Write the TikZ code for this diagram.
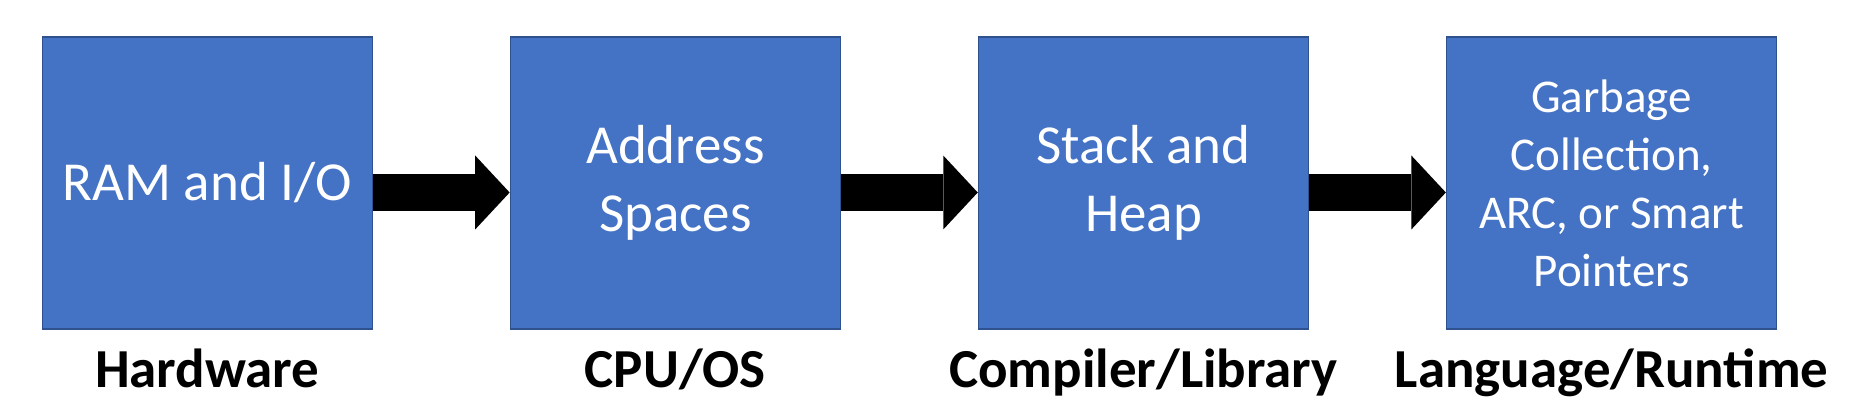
\documentclass[tikz,border=0pt]{standalone}
\usepackage{fontspec}
\setmainfont{Carlito}
\usepackage{tikz}
\usetikzlibrary{arrows.meta}
\definecolor{boxblue}{HTML}{4472C4}
\definecolor{boxedge}{HTML}{2F528F}
\tikzset{
  stage/.style={draw=boxedge,line width=0.75pt,fill=boxblue,text=white,
    minimum width=165pt,minimum height=146pt,inner sep=0pt,align=center},
  fullfit/.style={font=\fontsize{27.5}{34}\selectfont},
  shrunkfit/.style={font=\fontsize{23.5}{29}\selectfont},
  layer/.style={font=\fontsize{27.5}{34}\selectfont\bfseries,anchor=base,inner sep=0pt},
  flow/.style={line width=18.5pt,-{Triangle[length=17.25pt,width=37pt,line width=0pt]}}
}
\begin{document}
\begin{tikzpicture}[x=0.5pt,y=-0.5pt]
\useasboundingbox (0,0) rectangle (1860,416);
\pgfmathsetmacro\cx{207.3}
\pgfmathsetmacro\dx{468.1}

\foreach \i/\txt/\lay/\fit in {1/{RAM and I/O}/{Hardware}/fullfit,
  2/{Address\\Spaces}/{CPU/OS}/fullfit,
  3/{Stack and\\Heap}/{Compiler/Library}/fullfit,
  4/{Garbage\\Collection,\\ARC, or Smart\\Pointers}/{Language/Runtime}/shrunkfit} {
  \node[stage,\fit] (stage\i) at (\cx + \i * \dx - \dx, 183) {\txt};
  \node[layer] (layer\i) at ([yshift=-29pt]stage\i.south) {\lay};
}
% block arrows sit a bit below the middle
\foreach \i [evaluate=\i as \j using int(\i+1)] in {1,2,3} {
  \draw[flow] ([yshift=-4.75pt]stage\i.east) -- ([yshift=-4.75pt]stage\j.west);
}
\end{tikzpicture}
\end{document}
